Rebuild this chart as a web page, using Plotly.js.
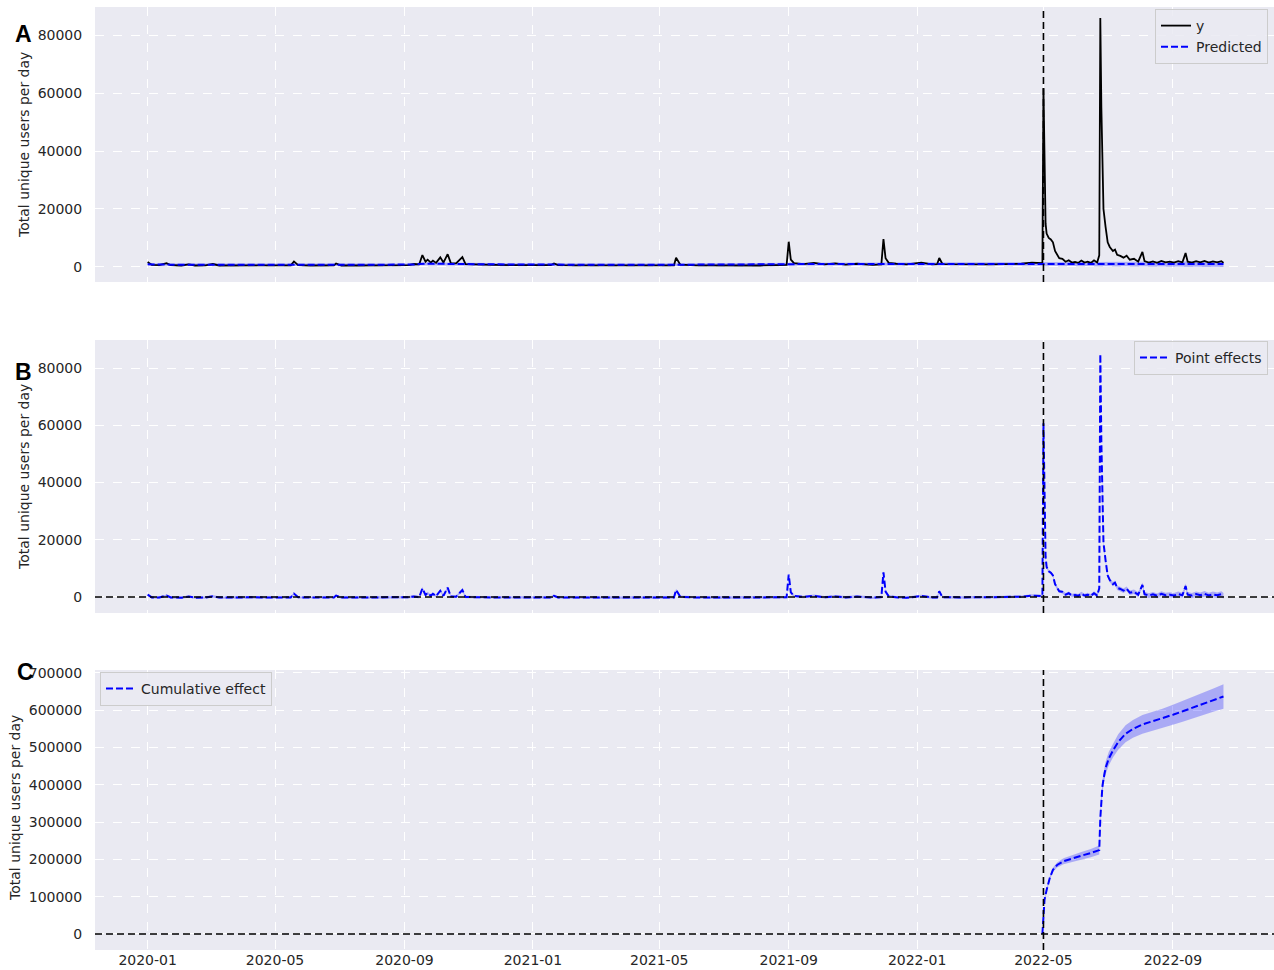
<!DOCTYPE html>
<html>
<head>
<meta charset="utf-8">
<script src="https://cdn.plot.ly/plotly-3.0.1.min.js"></script>
<style>html,body{margin:0;padding:0;background:#fff;}#chart{width:1274px;height:970px;}</style>
</head>
<body>
<div id="chart"></div>
<script>
// ---------- DATA ----------
const intervention = '2022-05-01';

const dates = [
'2020-01-01','2020-01-05','2020-01-12','2020-01-19','2020-01-23','2020-02-02','2020-02-09','2020-02-15','2020-02-25','2020-03-03',
'2020-03-09','2020-03-20','2020-04-01','2020-04-12','2020-04-25','2020-05-08','2020-05-16','2020-05-19','2020-05-23','2020-06-05',
'2020-06-18','2020-06-26','2020-06-28','2020-07-03','2020-07-15','2020-07-28','2020-08-10','2020-08-22','2020-09-05','2020-09-10',
'2020-09-15','2020-09-18','2020-09-21','2020-09-23','2020-09-26','2020-09-28','2020-10-01','2020-10-05','2020-10-08','2020-10-12',
'2020-10-15','2020-10-20','2020-10-26','2020-10-29','2020-11-10','2020-11-25','2020-12-10','2020-12-25','2021-01-18','2021-01-21',
'2021-01-25','2021-02-10','2021-02-28','2021-03-15','2021-04-01','2021-04-20','2021-05-05','2021-05-15','2021-05-17','2021-05-21',
'2021-06-05','2021-06-25','2021-07-15','2021-08-05','2021-08-20','2021-08-30','2021-09-01','2021-09-03','2021-09-06','2021-09-15',
'2021-09-25','2021-10-05','2021-10-15','2021-10-25','2021-11-05','2021-11-20','2021-11-28','2021-11-30','2021-12-02','2021-12-05',
'2021-12-12','2021-12-22','2022-01-05','2022-01-15','2022-01-20','2022-01-22','2022-01-25','2022-02-10','2022-02-25','2022-03-10',
'2022-03-25','2022-04-10','2022-04-20','2022-04-30',
'2022-05-01','2022-05-02','2022-05-03','2022-05-04','2022-05-06','2022-05-08','2022-05-10','2022-05-12','2022-05-14','2022-05-16',
'2022-05-19','2022-05-22','2022-05-25','2022-05-28','2022-05-31','2022-06-03','2022-06-06','2022-06-09','2022-06-12','2022-06-15',
'2022-06-18','2022-06-21','2022-06-23','2022-06-24','2022-06-25','2022-06-26','2022-06-27','2022-06-29','2022-07-01','2022-07-03',
'2022-07-06','2022-07-08','2022-07-10','2022-07-13','2022-07-16','2022-07-19','2022-07-22','2022-07-26','2022-07-30','2022-08-03',
'2022-08-05','2022-08-09','2022-08-13','2022-08-17','2022-08-21','2022-08-25','2022-08-29','2022-09-02','2022-09-06','2022-09-10',
'2022-09-13','2022-09-15','2022-09-19','2022-09-23','2022-09-27','2022-10-01','2022-10-05','2022-10-09','2022-10-13','2022-10-17',
'2022-10-19'
];

const observed = [
1700,700,600,1300,600,500,900,500,550,1000,
500,550,500,600,500,550,550,1900,600,500,
550,550,1200,500,500,550,500,550,600,1000,
900,4100,1800,2500,1500,2200,1400,3300,1500,4400,
1300,1200,3400,1000,800,700,650,600,600,1200,
600,550,500,550,500,550,500,550,3200,800,
550,500,550,500,650,700,8700,2500,1300,1000,
1400,900,1200,800,1100,700,900,9600,3000,1400,
1100,900,1500,900,950,3100,1000,900,1000,900,
1000,1100,1500,1300,
61700,32000,15000,11500,10000,9500,8500,5500,4000,3000,
2800,1800,2300,1500,1700,1400,2200,1500,1800,1400,
2300,1500,4000,85900,55000,31000,20000,13800,8500,6900,
5500,6000,4200,3800,3200,3900,2500,2800,1800,5200,
2000,1500,1900,1400,2100,1600,1800,1500,2000,1600,
4800,1800,1500,2000,1600,2100,1500,1900,1600,2000,
1400
];

const predicted = [
900,850,800,800,780,750,750,740,730,740,
720,700,700,700,700,700,710,720,720,700,
700,700,700,700,690,690,690,690,700,800,
1000,1100,1100,1100,1100,1100,1100,1100,1100,1150,
1100,1100,1000,1000,950,900,850,800,800,800,
780,750,740,730,720,720,720,730,750,750,
740,740,750,760,780,800,850,900,950,1000,
1000,1000,1000,950,950,950,950,1000,1100,1150,
1200,1200,1150,1100,1100,1100,1100,1050,1000,1000,
1000,1000,1000,1000,
1000,1000,1000,1000,1000,1000,1000,1000,1000,1000,
1000,1000,1000,1000,1000,1000,1000,1000,1000,1000,
1000,1000,1000,1000,1000,1000,1000,1000,1000,1000,
1000,1000,1000,1000,1000,1000,1000,1000,1000,1000,
1000,1000,1000,1000,1000,1000,1000,1000,1000,1000,
1000,1000,1000,1000,1000,1000,1000,1000,1000,1000,
1000
];

const predLower = [
500,450,400,400,380,350,350,340,330,340,
320,300,300,300,300,300,310,320,320,300,
300,300,300,300,290,290,290,290,300,400,
550,650,650,650,650,650,650,650,650,700,
650,650,550,550,500,450,400,350,350,350,
330,300,290,280,270,270,270,280,300,300,
290,290,300,310,330,350,400,450,500,550,
550,550,550,500,500,500,500,550,650,700,
750,750,700,650,650,650,650,600,550,550,
550,550,550,550,
500,500,500,500,490,480,470,460,450,440,
430,420,410,400,390,380,370,360,350,340,
330,320,310,300,300,290,290,280,280,270,
260,250,250,240,230,220,210,200,190,180,
180,170,160,150,140,130,120,110,100,90,
80,80,70,60,50,40,30,20,10,0,
0
];

const predUpper = [
1300,1250,1200,1200,1180,1150,1150,1140,1130,1140,
1120,1100,1100,1100,1100,1100,1110,1120,1120,1100,
1100,1100,1100,1100,1090,1090,1090,1090,1100,1200,
1450,1550,1550,1550,1550,1550,1550,1550,1550,1600,
1550,1550,1450,1450,1400,1350,1300,1250,1250,1250,
1230,1200,1190,1180,1170,1170,1170,1180,1200,1200,
1190,1190,1200,1210,1230,1250,1300,1350,1400,1450,
1450,1450,1450,1400,1400,1400,1400,1450,1550,1600,
1650,1650,1600,1550,1550,1550,1550,1500,1450,1450,
1450,1450,1450,1450,
1500,1500,1500,1500,1510,1520,1530,1540,1550,1560,
1570,1580,1590,1600,1610,1620,1630,1640,1650,1660,
1670,1680,1690,1700,1700,1710,1710,1720,1720,1730,
1740,1750,1750,1760,1770,1780,1790,1800,1810,1820,
1820,1830,1840,1850,1860,1870,1880,1890,1900,1910,
1920,1920,1930,1940,1950,1960,1970,1980,1990,2000,
2000
];

const cumDates = [
'2022-04-30','2022-05-01','2022-05-02','2022-05-04','2022-05-07','2022-05-10','2022-05-14','2022-05-20','2022-05-28','2022-06-06',
'2022-06-15','2022-06-23','2022-06-24','2022-06-25','2022-06-26','2022-06-27','2022-06-29','2022-07-02','2022-07-06','2022-07-11',
'2022-07-18','2022-07-25','2022-08-03','2022-08-12','2022-08-22','2022-09-01','2022-09-11','2022-09-20','2022-09-30','2022-10-10',
'2022-10-19'
];
const cumEffect = [
0,60000,92000,118000,150000,172000,185000,195000,203000,210000,
217000,225000,310000,365000,396000,415000,445000,470000,492000,515000,
537000,550000,562000,570000,578000,588000,598000,607000,617000,628000,
637000
];
const cumLower = [
0,58000,89000,114000,145000,166000,178000,187000,194000,200000,
206000,213000,297000,351000,381000,399000,428000,452000,473000,494000,
514000,526000,537000,545000,552000,561000,570000,578000,587000,597000,
604000
];
const cumUpper = [
0,62000,95000,122000,155000,178000,192000,203000,212000,220000,
228000,237000,323000,379000,411000,431000,462000,488000,511000,536000,
560000,574000,587000,595000,604000,615000,626000,636000,647000,659000,
670000
];

const yTicksAB = [0, 20000, 40000, 60000, 80000];
const yTicksC = [0, 100000, 200000, 300000, 400000, 500000, 600000, 700000];
const yTitle = 'Total unique users per day';

// ---------- derived (CausalImpact definitions) ----------
const pointEffect = observed.map((v, i) => v - predicted[i]);
const effLower = observed.map((v, i) => v - predUpper[i]);
const effUpper = observed.map((v, i) => v - predLower[i]);
const rev = a => a.slice().reverse();

// ---------- geometry ----------
const W = 1274, H = 970;
const fx = x => x / W;
const fy = y => 1 - y / H;
const FONT = 'DejaVu Sans, sans-serif';
const TXT = '#262626';
const BAND = 'rgba(0,0,255,0.27)';
const DASH = '7px,3px';

const traces = [
  // Panel A
  {x: dates.concat(rev(dates)), y: predUpper.concat(rev(predLower)), xaxis: 'x', yaxis: 'y',
   type: 'scatter', mode: 'lines', fill: 'toself', fillcolor: BAND, line: {width: 0}, showlegend: false, hoverinfo: 'skip'},
  {x: dates, y: observed, xaxis: 'x', yaxis: 'y', type: 'scatter', mode: 'lines', name: 'y',
   line: {color: 'black', width: 1.8}, legend: 'legend'},
  {x: dates, y: predicted, xaxis: 'x', yaxis: 'y', type: 'scatter', mode: 'lines', name: 'Predicted',
   line: {color: '#0000ff', width: 2, dash: DASH}, legend: 'legend'},
  // Panel B
  {x: dates.concat(rev(dates)), y: effUpper.concat(rev(effLower)), xaxis: 'x2', yaxis: 'y2',
   type: 'scatter', mode: 'lines', fill: 'toself', fillcolor: BAND, line: {width: 0}, showlegend: false, hoverinfo: 'skip'},
  {x: dates, y: pointEffect, xaxis: 'x2', yaxis: 'y2', type: 'scatter', mode: 'lines', name: 'Point effects',
   line: {color: '#0000ff', width: 2, dash: DASH}, legend: 'legend2'},
  // Panel C
  {x: cumDates.concat(rev(cumDates)), y: cumUpper.concat(rev(cumLower)), xaxis: 'x3', yaxis: 'y3',
   type: 'scatter', mode: 'lines', fill: 'toself', fillcolor: BAND, line: {width: 0}, showlegend: false, hoverinfo: 'skip'},
  {x: cumDates, y: cumEffect, xaxis: 'x3', yaxis: 'y3', type: 'scatter', mode: 'lines', name: 'Cumulative effect',
   line: {color: '#0000ff', width: 2, dash: DASH}, legend: 'legend3'}
];

const xBase = {
  type: 'date', range: ['2019-11-12', '2022-12-06'], domain: [fx(95), 1],
  tick0: '2020-01-01', dtick: 'M4', tickformat: '%Y-%m',
  showgrid: true, gridcolor: '#ffffff', gridwidth: 1, griddash: 'dash',
  zeroline: false, showline: false, automargin: false,
  tickfont: {family: FONT, size: 14, color: TXT}
};
const yBase = {
  tickformat: 'd', showgrid: true, gridcolor: '#ffffff', gridwidth: 1, griddash: 'dash',
  zeroline: false, showline: false, automargin: false,
  ticks: 'outside', ticklen: 9, tickcolor: 'rgba(0,0,0,0)',
  tickfont: {family: FONT, size: 14, color: TXT}
};

const legendBase = {
  bgcolor: 'rgba(234,234,242,0.85)', bordercolor: '#cccccc', borderwidth: 1,
  font: {family: FONT, size: 14, color: TXT}
};

function vline(xr, yr) {
  return {type: 'line', xref: xr, yref: yr, x0: intervention, x1: intervention, y0: 0, y1: 1,
          line: {color: 'black', width: 1.6, dash: '7px,4px'}};
}
function hzero(xr, yr) {
  return {type: 'line', xref: xr, yref: yr, x0: 0, x1: 1, y0: 0, y1: 0,
          line: {color: 'black', width: 1.6, dash: '7px,4px'}};
}

function ann(text, x, y, opts) {
  return Object.assign({text: text, xref: 'paper', yref: 'paper', x: fx(x), y: fy(y),
    showarrow: false, xanchor: 'center', yanchor: 'middle'}, opts || {});
}

const layout = {
  width: W, height: H,
  margin: {l: 0, r: 0, t: 0, b: 0},
  paper_bgcolor: '#ffffff', plot_bgcolor: '#eaeaf2',
  font: {family: FONT, size: 14, color: TXT},
  xaxis:  Object.assign({}, xBase, {anchor: 'y',  showticklabels: false, ticks: ''}),
  xaxis2: Object.assign({}, xBase, {anchor: 'y2', showticklabels: false, ticks: ''}),
  xaxis3: Object.assign({}, xBase, {anchor: 'y3', showticklabels: true, ticks: ''}),
  yaxis:  Object.assign({}, yBase, {domain: [fy(282), fy(7)],   range: [-5200, 89700], tickvals: yTicksAB}),
  yaxis2: Object.assign({}, yBase, {domain: [fy(613), fy(340)], range: [-5600, 89800], tickvals: yTicksAB}),
  yaxis3: Object.assign({}, yBase, {domain: [fy(950), fy(670)], range: [-43000, 708000], tickvals: yTicksC}),
  legend:  Object.assign({}, legendBase, {x: fx(1268), xanchor: 'right', y: fy(9), yanchor: 'top'}),
  legend2: Object.assign({}, legendBase, {x: fx(1268), xanchor: 'right', y: fy(341), yanchor: 'top'}),
  legend3: Object.assign({}, legendBase, {x: fx(100), xanchor: 'left', y: fy(672), yanchor: 'top'}),
  shapes: [
    vline('x', 'y domain'), vline('x2', 'y2 domain'), vline('x3', 'y3 domain'),
    hzero('x2 domain', 'y2'), hzero('x3 domain', 'y3')
  ],
  annotations: [
    ann(yTitle, 24, 145, {textangle: -90, font: {family: FONT, size: 14, color: TXT}}),
    ann(yTitle, 24, 477, {textangle: -90, font: {family: FONT, size: 14, color: TXT}}),
    ann(yTitle, 15, 808, {textangle: -90, font: {family: FONT, size: 14, color: TXT}}),
    ann('<b>A</b>', 23, 34, {font: {family: 'Liberation Sans, Arial, sans-serif', size: 23, color: '#000'}}),
    ann('<b>B</b>', 23, 372, {font: {family: 'Liberation Sans, Arial, sans-serif', size: 23, color: '#000'}}),
    ann('<b>C</b>', 25, 672, {font: {family: 'Liberation Sans, Arial, sans-serif', size: 23, color: '#000'}})
  ]
};

Plotly.newPlot('chart', traces, layout, {displayModeBar: false, staticPlot: true});
</script>
</body>
</html>
